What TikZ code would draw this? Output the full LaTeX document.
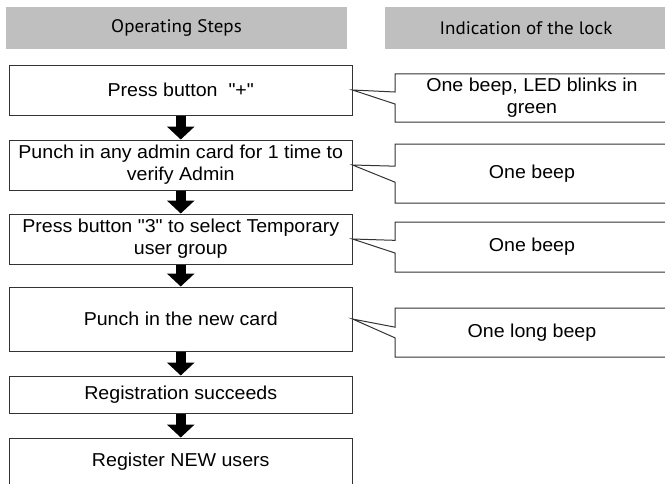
\documentclass[tikz,border=0pt]{standalone}
\usepackage{fontspec}
\setmainfont[FakeStretch=1.05, Ligatures=TeXOff]{Liberation Sans}
\newfontfamily\headfont[FakeStretch=1.05]{PT Sans}
\usetikzlibrary{arrows.meta}

\begin{document}
\begin{tikzpicture}[x = 0.75pt, y = -0.75pt,
		head/.style = {fill = black!25, minimum height = 31.5pt, inner sep = 0pt, font = \headfont\fontsize{13.6}{15}\selectfont},
		stepbox/.style = {draw = black!80, line width = 0.75pt, minimum width = 256.9pt, inner xsep = 2pt, align = center, font = \fontsize{14}{16.3}\selectfont},
		lockbox/.style = {minimum width = 205.5pt, outer sep = 0pt, align = center, font = \fontsize{14}{16.3}\selectfont},
		lockline/.style = {draw = black!80, line width = 0.75pt, line join = miter},
		flow/.style = {-{Triangle[width = 20.25pt, length = 9.75pt]}, line width = 7.5pt}]
	\clip (0,0) rectangle (665,483);
	\node [head, minimum width = 255.75pt] (hsteps) at (176.5,28) {Operating Steps};
	\node [head, minimum width = 211.5pt] (hlock) at (526,28) {Indication of the lock};
	\node [stepbox, minimum height = 37.5pt] (s1) at (180.75,90) {Press button \ "+"};
	\node [stepbox, minimum height = 37.5pt] (s2) at (180.75,165) {Punch in any admin card for 1 time to\\verify Admin};
	\node [stepbox, minimum height = 37.5pt] (s3) at (180.75,239) {Press button "3" to select Temporary\\user group};
	\node [stepbox, minimum height = 48pt] (s4) at (180.75,319) {Punch in the new card};
	\node [stepbox, minimum height = 27.75pt] (s5) at (180.75,394.5) {Registration succeeds};
	\node [stepbox, minimum height = 36pt] (s6) at (180.75,462) {Register NEW users};
	\draw [flow] (s1) -- (s2);
	\draw [flow] (s2) -- (s3);
	\draw [flow] (s3) -- (s4);
	\draw [flow] (s4) -- (s5);
	\draw [flow] (s5) -- (s6);
	\node [lockbox, minimum height = 36pt] (l1) at (532,98) {One beep, LED blinks in\\green};
	\node [lockbox, minimum height = 44.25pt] (l2) at (532,173.5) {One beep};
	\node [lockbox, minimum height = 37.5pt] (l3) at (532,247) {One beep};
	\node [lockbox, minimum height = 36.75pt] (l4) at (532,332.5) {One long beep};
	\draw [lockline] ([yshift = 4.5pt]l1.west) -- (l1.north west) -- (l1.north east) -- (l1.south east) -- (l1.south west) -- ([yshift = -4.5pt]l1.west) -- (s1.east) -- cycle;
	\draw [lockline] ([yshift = 5.5pt]l2.west) -- (l2.north west) -- (l2.north east) -- (l2.south east) -- (l2.south west) -- ([yshift = -6.5pt]l2.west) -- (s2.east) -- cycle;
	\draw [lockline] ([yshift = 5pt]l3.west) -- (l3.north west) -- (l3.north east) -- (l3.south east) -- (l3.south west) -- ([yshift = -4.5pt]l3.west) -- (s3.east) -- cycle;
	\draw [lockline] ([yshift = 4pt]l4.west) -- (l4.north west) -- (l4.north east) -- (l4.south east) -- (l4.south west) -- ([yshift = -4pt]l4.west) -- (s4.east) -- cycle;
\end{tikzpicture}
\end{document}
